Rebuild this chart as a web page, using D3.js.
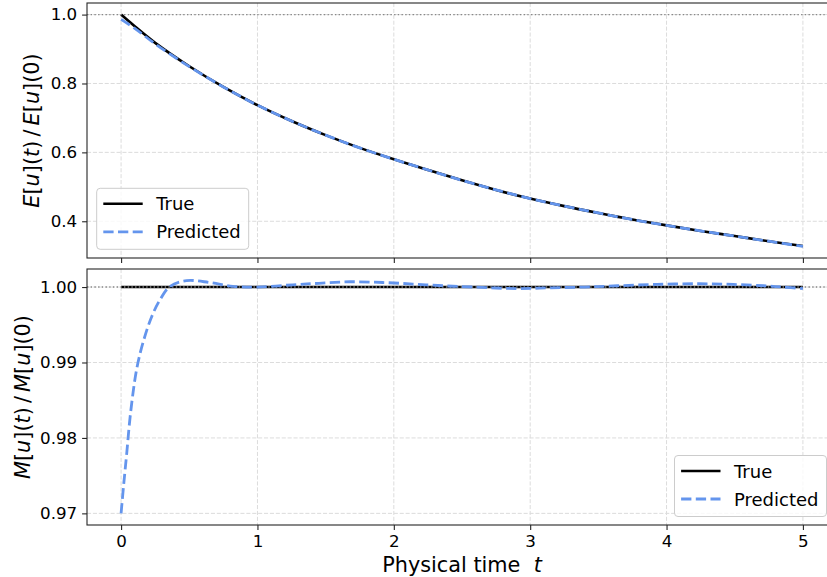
<!DOCTYPE html>
<html>
<head>
<meta charset="utf-8">
<script src="https://cdn.jsdelivr.net/npm/d3@7"></script>
<style>
  html, body { margin: 0; padding: 0; background: #fff; }
  svg { display: block; font-family: "DejaVu Sans", sans-serif; }
</style>
</head>
<body>
<svg id="chart" width="827" height="577"></svg>
<script>
// ---- Energy ratio E[u](t)/E[u](0) ----
const timeEnergy = [0, 0.1, 0.25, 0.5, 0.75, 1, 1.25, 1.5, 1.75, 2, 2.25, 2.5,
                    2.75, 3, 3.25, 3.5, 3.75, 4, 4.25, 4.5, 4.75, 5];
const energyTrue = [1.000, 0.966, 0.918, 0.850, 0.790, 0.737, 0.691, 0.650, 0.613, 0.580, 0.549, 0.519,
                    0.491, 0.466, 0.444, 0.424, 0.405, 0.388, 0.372, 0.357, 0.342, 0.328];
const energyPred = [0.986, 0.960, 0.915, 0.849, 0.790, 0.737, 0.691, 0.650, 0.613, 0.580, 0.549, 0.519,
                    0.491, 0.466, 0.444, 0.424, 0.405, 0.388, 0.372, 0.357, 0.342, 0.327];

// ---- Mass ratio M[u](t)/M[u](0) ----
const timeMassTrue = [0, 5];
const massTrue = [1.0, 1.0];
const timeMassPred = [0, 0.02, 0.04, 0.07, 0.115, 0.165, 0.225, 0.285, 0.36, 0.48, 0.65, 0.82, 1.0,
                      1.26, 1.45, 1.68, 1.92, 2.14, 2.36, 2.58, 2.9, 3.15, 3.4, 3.64, 3.93,
                      4.24, 4.49, 4.71, 4.85, 5.0];
const massPred = [0.9700, 0.9740, 0.9777, 0.9834, 0.9892, 0.9929, 0.9961, 0.9983, 1.0001, 1.00085, 1.0006, 1.0001, 1.0000,
                  1.0003, 1.0005, 1.0007, 1.0006, 1.0004, 1.00017, 1.0000, 0.9998, 0.9999, 1.0000, 1.00017, 1.00035,
                  1.00044, 1.00035, 1.00017, 1.0000, 0.9998];

// ---- Axis ticks ----
const xTicks = [0, 1, 2, 3, 4, 5];
const energyTicks = [0.4, 0.6, 0.8, 1.0];
const massTicks = [0.97, 0.98, 0.99, 1.00];
const legendLabels = ["True", "Predicted"];

const svg = d3.select("#chart");
const axLeft = 87, axRight = 837;
const tickLen = 4.9, tickPad = 4.9;
const spineColor = "#262626";
const trueColor = "#000000";
const predColor = "#6495ED";

const x = d3.scaleLinear().domain([-0.25, 5.25]).range([axLeft, axRight]);

function padded(values) {
  const [lo, hi] = d3.extent(values);
  const m = (hi - lo) * 0.05;
  return [lo - m, hi + m];
}

function drawPanel(opt) {
  const g = svg.append("g");
  const y = d3.scaleLinear().domain(padded(opt.yValues)).range([opt.bottom, opt.top]);

  // grid
  const grid = g.append("g").attr("stroke", "#dcdcdc").attr("stroke-width", 1)
    .attr("stroke-dasharray", "4.1,1.8");
  grid.selectAll("line.v").data(xTicks).join("line")
    .attr("x1", d => x(d)).attr("x2", d => x(d))
    .attr("y1", opt.top).attr("y2", opt.bottom);
  grid.selectAll("line.h").data(opt.yTicks).join("line")
    .attr("x1", axLeft).attr("x2", axRight)
    .attr("y1", d => y(d)).attr("y2", d => y(d));

  const line = d3.line().x(d => x(d[0])).y(d => y(d[1])).curve(d3.curveCatmullRom.alpha(0.5));

  // true series
  g.append("path")
    .datum(d3.zip(opt.tTrue, opt.vTrue))
    .attr("d", line)
    .attr("fill", "none").attr("stroke", trueColor).attr("stroke-width", 2.6)
    .attr("stroke-linecap", "butt");

  // reference line at 1
  g.append("line")
    .attr("x1", axLeft).attr("x2", axRight)
    .attr("y1", y(1)).attr("y2", y(1))
    .attr("stroke", "#888").attr("stroke-width", 1.4)
    .attr("stroke-dasharray", "1.4,2.3");

  // predicted series
  g.append("path")
    .datum(d3.zip(opt.tPred, opt.vPred))
    .attr("d", line)
    .attr("fill", "none").attr("stroke", predColor).attr("stroke-width", 2.8)
    .attr("stroke-dasharray", "10.3,4.4");

  // spines
  g.append("rect")
    .attr("x", axLeft).attr("y", opt.top)
    .attr("width", axRight - axLeft).attr("height", opt.bottom - opt.top)
    .attr("fill", "none").attr("stroke", spineColor).attr("stroke-width", 1.1);

  // y axis
  const yAxis = d3.axisLeft(y).tickValues(opt.yTicks).tickFormat(d3.format(opt.fmt))
    .tickSize(tickLen).tickPadding(tickPad);
  const ya = g.append("g").attr("transform", `translate(${axLeft},0)`).call(yAxis);
  ya.select(".domain").remove();
  ya.selectAll(".tick line").attr("stroke", spineColor).attr("stroke-width", 1.1);
  ya.selectAll(".tick text").attr("font-size", 16.7).attr("fill", "#000")
    .attr("font-family", "DejaVu Sans");

  // x axis
  const xAxis = d3.axisBottom(x).tickValues(xTicks).tickFormat(opt.showX ? d3.format("d") : "")
    .tickSize(tickLen).tickPadding(tickPad);
  const xa = g.append("g").attr("transform", `translate(0,${opt.bottom})`).call(xAxis);
  xa.select(".domain").remove();
  xa.selectAll(".tick line").attr("stroke", spineColor).attr("stroke-width", 1.1);
  xa.selectAll(".tick text").attr("font-size", 16.7).attr("fill", "#000")
    .attr("font-family", "DejaVu Sans");

  // y label with italic math variables
  const lab = g.append("text")
    .attr("transform", `translate(${opt.labelX},${(opt.top + opt.bottom) / 2}) rotate(-90)`)
    .attr("text-anchor", "middle").attr("font-size", 20.8).attr("fill", "#000");
  const L = opt.letter;
  const parts = [[L, true], ["[", false], ["u", true], ["](", false], ["t", true], [")", false],
                 ["\u2009/\u2009", false], [L, true], ["[", false], ["u", true], ["](0)", false]];
  parts.forEach(([s, it]) => {
    lab.append("tspan").text(s).attr("font-style", it ? "italic" : "normal");
  });

  // legend
  const lg = g.append("g").attr("transform", `translate(${opt.legendX},${opt.legendY})`);
  lg.append("rect").attr("width", 152).attr("height", 61).attr("rx", 3.5)
    .attr("fill", "#fff").attr("fill-opacity", 0.8)
    .attr("stroke", "#cccccc").attr("stroke-width", 1);
  legendLabels.forEach((name, i) => {
    const ry = 15.5 + i * 28;
    lg.append("line").attr("x1", 6.6).attr("x2", 46).attr("y1", ry).attr("y2", ry)
      .attr("stroke", i === 0 ? trueColor : predColor)
      .attr("stroke-width", i === 0 ? 2.6 : 2.8)
      .attr("stroke-dasharray", i === 0 ? null : "10.3,4.4");
    lg.append("text").attr("x", 59.5).attr("y", ry + 6.6)
      .attr("font-size", 18).attr("fill", "#000").text(name);
  });
}

drawPanel({
  top: 3, bottom: 258,
  yValues: energyTrue.concat(energyPred),
  yTicks: energyTicks, fmt: ".1f",
  tTrue: timeEnergy, vTrue: energyTrue,
  tPred: timeEnergy, vPred: energyPred,
  showX: false, letter: "E", labelX: 39,
  legendX: 96.7, legendY: 188.3
});

drawPanel({
  top: 269, bottom: 525,
  yValues: massTrue.concat(massPred),
  yTicks: massTicks, fmt: ".2f",
  tTrue: timeMassTrue, vTrue: massTrue,
  tPred: timeMassPred, vPred: massPred,
  showX: true, letter: "M", labelX: 29.5,
  legendX: 674.5, legendY: 455.5
});

// x label
const xl = svg.append("text")
  .attr("x", (axLeft + axRight) / 2).attr("y", 571.5)
  .attr("text-anchor", "middle").attr("font-size", 20.8).attr("fill", "#000");
xl.append("tspan").text("Physical time\u00a0\u00a0");
xl.append("tspan").attr("font-style", "italic").text("t");
</script>
</body>
</html>
